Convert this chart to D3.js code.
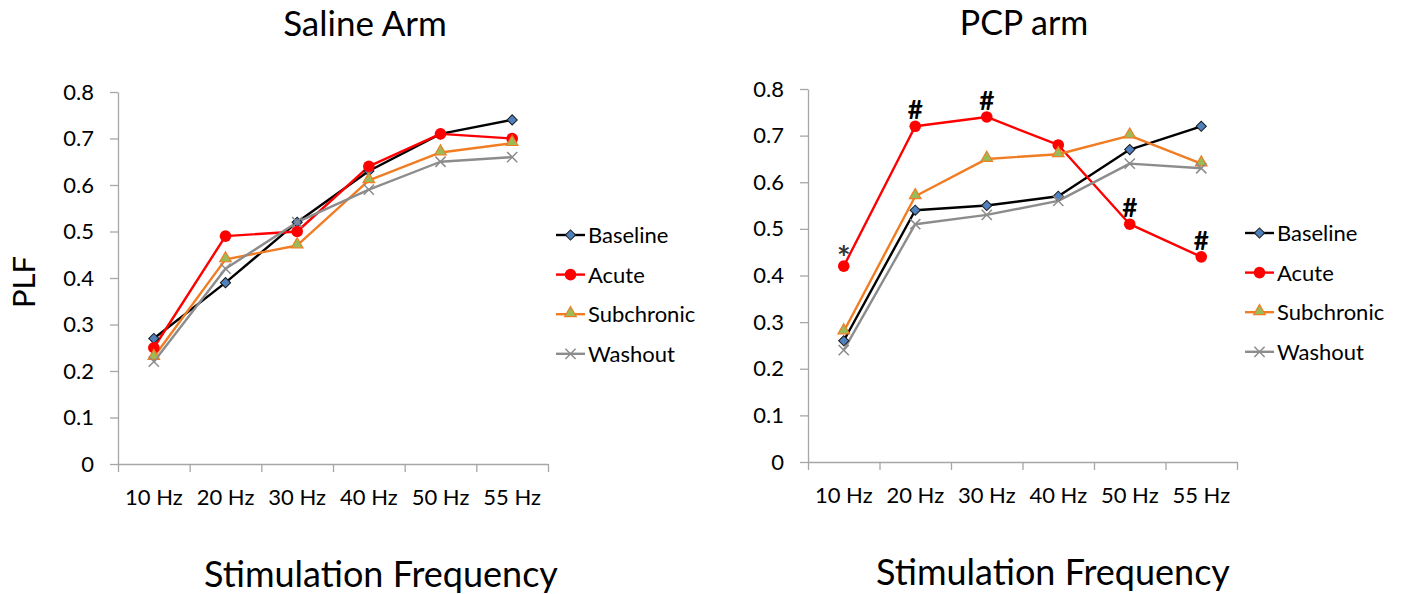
<!DOCTYPE html>
<html>
<head>
<meta charset="utf-8">
<script src="https://cdn.jsdelivr.net/npm/d3@7"></script>
<style>
  body { margin: 0; background: #fff; }
  svg { display: block; font-family: Lato, "Open Sans", sans-serif; }
  .axis path, .axis line { stroke: #a6a6a6; stroke-width: 1.3; }
  .axis text { font-size: 22px; fill: #000; font-family: Lato, sans-serif; }
</style>
</head>
<body>
<div class="chart"></div>
<script>
var w = 1401;
var h = 594;

var categories = ["10 Hz", "20 Hz", "30 Hz", "40 Hz", "50 Hz", "55 Hz"];
var seriesNames = ["Baseline", "Acute", "Subchronic", "Washout"];
var yTicks = [0, 0.1, 0.2, 0.3, 0.4, 0.5, 0.6, 0.7, 0.8];

// saline arm
var salineBaseline   = [0.27, 0.39, 0.52, 0.63, 0.71, 0.74];
var salineAcute      = [0.25, 0.49, 0.50, 0.64, 0.71, 0.70];
var salineSubchronic = [0.23, 0.44, 0.47, 0.61, 0.67, 0.69];
var salineWashout    = [0.22, 0.42, 0.52, 0.59, 0.65, 0.66];

// pcp arm
var pcpBaseline   = [0.26, 0.54, 0.55, 0.57, 0.67, 0.72];
var pcpAcute      = [0.42, 0.72, 0.74, 0.68, 0.51, 0.44];
var pcpSubchronic = [0.28, 0.57, 0.65, 0.66, 0.70, 0.64];
var pcpWashout    = [0.24, 0.51, 0.53, 0.56, 0.64, 0.63];

// significance marks over the acute line
var pcpAcuteMarks = ["*", "#", "#", "", "#", "#"];

var styles = [
  {line: "#000000", shape: "diamond"},
  {line: "#ff0000", shape: "circle"},
  {line: "#f07d23", shape: "triangle"},
  {line: "#8c8c8c", shape: "times"}
];

var svg = d3.select(".chart").append("svg")
            .attr("width", w)
            .attr("height", h);

var drawMarker = function(g, shape) {
  if (shape == "diamond") {
    g.append("path")
     .attr("d", d3.symbol().type(d3.symbolSquare).size(52)())
     .attr("transform", "rotate(45)")
     .style("fill", "#4f81bd")
     .style("stroke", "#1a1a1a")
     .style("stroke-width", 1);
  } else if (shape == "circle") {
    g.append("circle")
     .attr("r", 5.8)
     .style("fill", "#ff0000");
  } else if (shape == "triangle") {
    g.append("path")
     .attr("d", d3.symbol().type(d3.symbolTriangle).size(58)())
     .attr("transform", "translate(0,-1)")
     .style("fill", "#9bbb59")
     .style("stroke", "#f07d23")
     .style("stroke-width", 1.2);
  } else {
    g.append("path")
     .attr("d", d3.symbol().type(d3.symbolTimes).size(70)())
     .style("fill", "none")
     .style("stroke", "#8c8c8c")
     .style("stroke-width", 1.5);
  }
};

var drawPanel = function(p) {
  var xScale = d3.scaleBand()
                 .domain(categories)
                 .range([p.x0, p.x1]);

  var yScale = d3.scaleLinear()
                 .domain([0, 0.8])
                 .range([p.yBottom, p.yTop]);

  // y axis
  svg.append("g")
     .attr("class", "axis")
     .attr("transform", "translate(" + p.x0 + ",0)")
     .call(d3.axisLeft(yScale)
             .tickValues(yTicks)
             .tickSize(8)
             .tickSizeOuter(0)
             .tickPadding(16)
             .tickFormat(function(d) { return d == 0 ? "0" : d3.format(".1f")(d); }));

  // x axis: tick marks between categories
  var bounds = categories.map(function(d) { return xScale(d); }).concat([p.x1]);
  svg.append("g")
     .attr("class", "axis")
     .attr("transform", "translate(0," + p.yBottom + ")")
     .call(d3.axisBottom(d3.scaleLinear().domain([p.x0, p.x1]).range([p.x0, p.x1]))
             .tickValues(bounds)
             .tickSize(8)
             .tickSizeOuter(0)
             .tickFormat(""));

  // x labels centred in the bands
  svg.append("g")
     .attr("class", "axis")
     .attr("transform", "translate(0," + p.yBottom + ")")
     .call(d3.axisBottom(xScale).tickSize(0).tickPadding(25))
     .call(function(g) { g.select(".domain").remove(); });

  var line = d3.line()
               .x(function(d, i) { return xScale(categories[i]) + xScale.bandwidth() / 2; })
               .y(function(d) { return yScale(d); });

  p.series.forEach(function(values, s) {
    svg.append("path")
       .datum(values)
       .attr("d", line)
       .style("fill", "none")
       .style("stroke", styles[s].line)
       .style("stroke-width", 2.4)
       .style("stroke-linejoin", "round");
  });

  p.series.forEach(function(values, s) {
    values.forEach(function(v, i) {
      var g = svg.append("g")
                 .attr("transform", "translate(" + (xScale(categories[i]) + xScale.bandwidth() / 2) + "," + yScale(v) + ")");
      drawMarker(g, styles[s].shape);
    });
  });

  if (p.marks) {
    p.marks.forEach(function(m, i) {
      if (m == "") return;
      svg.append("text")
         .attr("x", xScale(categories[i]) + xScale.bandwidth() / 2)
         .attr("y", yScale(p.series[1][i]) + (m == "*" ? 4 : -7))
         .attr("text-anchor", "middle")
         .style("font-size", m == "*" ? "32px" : "26px")
         .style("font-weight", "bold")
         .style("fill", m == "*" ? "#333" : "#000")
         .text(m);
    });
  }

  // legend
  seriesNames.forEach(function(name, s) {
    var ly = p.legendY + s * 39.6;
    svg.append("line")
       .attr("x1", p.legendX)
       .attr("x2", p.legendX + 29)
       .attr("y1", ly)
       .attr("y2", ly)
       .style("stroke", styles[s].line)
       .style("stroke-width", 2.4);
    var g = svg.append("g")
               .attr("transform", "translate(" + (p.legendX + 14.5) + "," + ly + ")");
    drawMarker(g, styles[s].shape);
    svg.append("text")
       .attr("x", p.legendX + 32)
       .attr("y", ly)
       .attr("dy", "0.36em")
       .style("font-size", "22px")
       .text(name);
  });

  // titles
  svg.append("text")
     .attr("x", p.titleX)
     .attr("y", p.titleY)
     .attr("text-anchor", "middle")
     .style("font-size", p.titleSize)
     .text(p.title);

  svg.append("text")
     .attr("x", p.xLabelX)
     .attr("y", p.xLabelY)
     .attr("text-anchor", "middle")
     .style("font-size", "36px")
     .text("Stimulation Frequency");
};

drawPanel({
  title: "Saline Arm", titleX: 365, titleY: 36, titleSize: "35px",
  x0: 118, x1: 548, yTop: 92, yBottom: 464,
  legendX: 556, legendY: 235,
  xLabelX: 381, xLabelY: 587,
  series: [salineBaseline, salineAcute, salineSubchronic, salineWashout]
});

drawPanel({
  title: "PCP arm", titleX: 1024, titleY: 35, titleSize: "34px",
  x0: 808, x1: 1237, yTop: 89, yBottom: 462,
  legendX: 1245, legendY: 233,
  xLabelX: 1053, xLabelY: 585,
  series: [pcpBaseline, pcpAcute, pcpSubchronic, pcpWashout],
  marks: pcpAcuteMarks
});

svg.append("text")
   .attr("transform", "translate(35,282) rotate(-90)")
   .attr("text-anchor", "middle")
   .style("font-size", "31px")
   .text("PLF");
</script>
</body>
</html>
